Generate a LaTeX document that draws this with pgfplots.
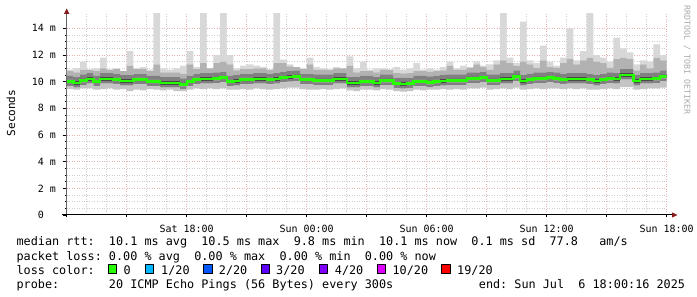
\documentclass[border=0pt]{standalone}
\usepackage{fontspec}
\setmainfont{DejaVu Sans Mono}
\usepackage{pgfplots}
\pgfplotsset{compat=1.18}
\usepackage{pgfplotstable}
\definecolor{mgrid}{RGB}{232,178,178}
\definecolor{mingrid}{RGB}{205,205,205}
\definecolor{arrowred}{RGB}{135,28,28}
\definecolor{yaxisgray}{RGB}{100,100,100}
\definecolor{l0}{HTML}{26FF00}
\definecolor{l1}{HTML}{00B8FF}
\definecolor{l2}{HTML}{0059FF}
\definecolor{l3}{HTML}{5E00FF}
\definecolor{l4}{HTML}{7E00FF}
\definecolor{l10}{HTML}{DD00FF}
\definecolor{l19}{HTML}{FF0000}
\definecolor{s1}{RGB}{196,196,196}
\definecolor{s2}{RGB}{128,128,128}
\definecolor{s3}{RGB}{72,72,72}
\definecolor{s4}{RGB}{178,178,178}
\definecolor{s5}{RGB}{216,216,216}
\definecolor{wm}{RGB}{170,170,170}
\newcommand\legfont{\fontsize{11.85}{14}\selectfont}
\newcommand\tickfont{\fontsize{10}{12}\selectfont}
\pgfplotstableread{
t lo q1 q2 med q3 q4 q5 hi
0 9.45 9.65 9.85 10.0 10.15 10.45 10.8 10.9
20 9.4 9.55 9.75 9.9 10.05 10.35 10.7 11.0
40 9.5 9.75 9.95 10.1 10.25 10.55 10.9 11.5
60 9.5 9.85 10.05 10.2 10.35 10.65 10.9 10.9
80 9.4 9.65 9.85 10.0 10.15 10.45 10.8 11.0
100 9.45 9.85 10.05 10.2 10.35 10.65 11.0 11.8
120 9.5 9.85 10.05 10.2 10.35 10.65 10.9 10.9
140 9.4 9.8 10.0 10.15 10.3 10.6 10.95 11.0
160 9.45 9.7 9.9 10.05 10.2 10.5 10.8 10.8
180 9.3 9.7 9.9 10.05 10.2 10.5 11.2 12.3
200 9.4 9.8 10.0 10.15 10.3 10.6 10.95 11.0
220 9.35 9.8 10.0 10.15 10.3 10.6 10.95 11.1
240 9.45 9.65 9.85 10.0 10.15 10.45 10.8 10.9
260 9.4 9.65 9.85 10.0 10.15 10.45 11.3 15.3
280 9.35 9.55 9.75 9.9 10.05 10.35 10.7 11.0
300 9.4 9.55 9.75 9.9 10.05 10.35 10.7 10.9
320 9.3 9.55 9.75 9.9 10.05 10.35 10.7 11.0
340 9.3 9.45 9.65 9.8 9.95 10.25 10.6 11.2
360 9.4 9.65 9.85 10.0 10.15 10.45 11.3 12.3
380 9.5 9.8 10.0 10.15 10.3 10.6 10.95 11.1
400 9.45 9.85 10.05 10.2 10.35 10.65 11.4 15.3
420 9.5 9.85 10.05 10.2 10.35 10.65 11.0 11.0
440 9.45 9.9 10.1 10.25 10.4 10.7 11.4 12.0
460 9.5 9.95 10.15 10.3 10.45 10.75 11.5 15.3
480 9.4 9.65 9.85 10.0 10.15 10.45 11.3 12.0
500 9.4 9.7 9.9 10.05 10.2 10.5 10.85 11.0
520 9.45 9.8 10.0 10.15 10.3 10.6 10.95 11.2
540 9.4 9.8 10.0 10.15 10.3 10.6 10.95 11.3
560 9.5 9.85 10.05 10.2 10.35 10.65 11.0 11.2
580 9.45 9.85 10.05 10.2 10.35 10.65 11.0 11.1
600 9.4 9.8 10.0 10.15 10.3 10.6 10.9 10.9
620 9.45 9.85 10.05 10.2 10.35 10.65 11.4 15.3
640 9.5 9.95 10.15 10.3 10.45 10.75 11.4 11.65
660 9.55 10.0 10.2 10.35 10.5 10.8 11.15 11.3
680 9.55 10.05 10.25 10.4 10.55 10.85 11.1 11.1
700 9.45 9.8 10.0 10.15 10.3 10.6 10.95 11.0
720 9.4 9.8 10.0 10.15 10.3 10.6 11.3 11.8
740 9.4 9.75 9.95 10.1 10.25 10.55 10.9 11.1
760 9.45 9.75 9.95 10.1 10.25 10.55 10.9 11.0
780 9.4 9.75 9.95 10.1 10.25 10.55 10.9 10.9
800 9.45 9.85 10.05 10.2 10.35 10.65 11.0 11.1
820 9.5 9.85 10.05 10.2 10.35 10.65 11.0 11.0
840 9.35 9.55 9.75 9.9 10.05 10.35 11.2 11.9
860 9.3 9.55 9.75 9.9 10.05 10.35 10.7 11.0
880 9.4 9.65 9.85 10.0 10.15 10.45 10.8 11.5
900 9.4 9.65 9.85 10.0 10.15 10.45 10.8 10.9
920 9.35 9.55 9.75 9.9 10.05 10.35 10.7 11.0
940 9.45 9.75 9.95 10.1 10.25 10.55 10.9 11.0
960 9.4 9.75 9.95 10.1 10.25 10.55 10.9 10.9
980 9.3 9.5 9.7 9.85 10.0 10.3 10.65 11.1
1000 9.25 9.48 9.68 9.83 9.98 10.28 10.63 10.9
1020 9.3 9.5 9.7 9.85 10.0 10.3 10.65 11.0
1040 9.4 9.65 9.85 10.0 10.15 10.45 10.8 11.4
1060 9.35 9.65 9.85 10.0 10.15 10.45 10.8 10.9
1080 9.4 9.6 9.8 9.95 10.1 10.4 10.75 11.0
1100 9.4 9.65 9.85 10.0 10.15 10.45 10.8 10.9
1120 9.45 9.7 9.9 10.05 10.2 10.5 10.85 11.1
1140 9.4 9.75 9.95 10.1 10.25 10.55 11.2 11.5
1160 9.45 9.75 9.95 10.1 10.25 10.55 10.9 11.0
1180 9.4 9.75 9.95 10.1 10.25 10.55 10.9 11.2
1200 9.5 9.9 10.1 10.25 10.4 10.7 11.05 11.1
1220 9.5 9.9 10.1 10.25 10.4 10.7 11.3 11.5
1240 9.55 9.95 10.15 10.3 10.45 10.75 11.1 11.2
1260 9.4 9.75 9.95 10.1 10.25 10.55 10.9 11.3
1280 9.45 9.75 9.95 10.1 10.25 10.55 11.3 11.6
1300 9.5 9.85 10.05 10.2 10.35 10.65 11.6 15.3
1320 9.45 9.85 10.05 10.2 10.35 10.65 11.4 11.8
1340 9.55 10.05 10.25 10.4 10.55 10.85 11.2 11.4
1360 9.4 9.7 9.9 10.05 10.2 10.5 11.5 14.5
1380 9.45 9.8 10.0 10.15 10.3 10.6 11.3 11.6
1400 9.5 9.9 10.1 10.25 10.4 10.7 11.05 11.4
1420 9.45 9.9 10.1 10.25 10.4 10.7 11.6 12.7
1440 9.5 9.95 10.15 10.3 10.45 10.75 11.1 11.5
1460 9.5 9.9 10.1 10.25 10.4 10.7 11.05 11.2
1480 9.45 9.8 10.0 10.15 10.3 10.6 11.4 11.8
1500 9.5 9.85 10.05 10.2 10.35 10.65 11.7 14.0
1520 9.45 9.85 10.05 10.2 10.35 10.65 11.3 11.6
1540 9.5 9.85 10.05 10.2 10.35 10.65 11.6 12.3
1560 9.4 9.8 10.0 10.15 10.3 10.6 11.8 15.3
1580 9.4 9.7 9.9 10.05 10.2 10.5 11.5 12.0
1600 9.45 9.8 10.0 10.15 10.3 10.6 11.4 11.8
1620 9.5 9.9 10.1 10.25 10.4 10.7 11.05 11.5
1640 9.45 9.85 10.05 10.2 10.35 10.65 11.7 13.3
1660 9.6 10.15 10.35 10.5 10.65 10.95 11.8 12.5
1680 9.6 10.15 10.35 10.5 10.65 10.95 11.7 12.2
1700 9.4 9.7 9.9 10.05 10.2 10.5 10.85 11.3
1720 9.45 9.85 10.05 10.2 10.35 10.65 11.3 11.6
1740 9.5 9.85 10.05 10.2 10.35 10.65 11.0 11.5
1760 9.5 9.9 10.1 10.25 10.4 10.7 11.8 12.8
1780 9.55 10.05 10.25 10.4 10.55 10.85 11.6 12.0
1800 9.55 10.05 10.25 10.4 10.55 10.85 11.6 12.0
}\smoke
\begin{document}
\begin{tikzpicture}
\fill[white] (0,0) rectangle (697bp,297bp);
\path[use as bounding box] (0,0) rectangle (697bp,297bp);
\begin{axis}[name=ax, at={(66.7bp,82bp)}, anchor=south west,
  scale only axis, width=600bp, height=201.3bp,
  xmin=0, xmax=1800, ymin=0, ymax=15.1,
  axis x line*=bottom, axis y line*=left,
  x axis line style={black, line width=1bp},
  y axis line style={yaxisgray, line width=1bp},
  xtick={0,180,...,1800},
  xticklabels={,,Sat 18:00,,Sun 00:00,,Sun 06:00,,Sun 12:00,,Sun 18:00},
  ytick={0,2,...,14},
  yticklabels={0\hphantom{~m},2~m,4~m,6~m,8~m,10~m,12~m,14~m},
  minor x tick num=2, minor y tick num=3,
  grid=both,
  major grid style={mgrid, line width=1bp, dash pattern=on 1bp off 1.5bp},
  minor grid style={mingrid, line width=1bp, dash pattern=on 1bp off 1.5bp},
  tick align=outside,
  major tick length=4bp, minor tick length=2bp,
  tick style={black, line width=0.8bp},
  xtick style={/pgfplots/major tick length=2.5bp},
  minor x tick style={/pgfplots/minor tick length=0pt},
  ticklabel style={font=\tickfont},
  xticklabel style={anchor=base, inner sep=0pt, yshift=-13.3bp},
  yticklabel style={anchor=east, inner sep=0pt, xshift=-6.7bp},
  stack plots=y,
]
\addplot[draw=none, const plot] table[x=t, y=lo]{\smoke};
\addplot[fill=s1, draw=none, const plot] table[x=t, y expr=\thisrow{q1}-\thisrow{lo}]{\smoke} \closedcycle;
\addplot[fill=s2, draw=none, const plot] table[x=t, y expr=\thisrow{q2}-\thisrow{q1}]{\smoke} \closedcycle;
\addplot[fill=s3, draw=none, const plot] table[x=t, y expr=\thisrow{q3}-\thisrow{q2}]{\smoke} \closedcycle;
\addplot[fill=s2, draw=none, const plot] table[x=t, y expr=\thisrow{q4}-\thisrow{q3}]{\smoke} \closedcycle;
\addplot[fill=s4, draw=none, const plot] table[x=t, y expr=\thisrow{q5}-\thisrow{q4}]{\smoke} \closedcycle;
\addplot[fill=s5, draw=none, const plot] table[x=t, y expr=\thisrow{hi}-\thisrow{q5}]{\smoke} \closedcycle;
\end{axis}
\begin{axis}[at={(66.7bp,82bp)}, anchor=south west,
  scale only axis, width=600bp, height=201.3bp,
  xmin=0, xmax=1800, ymin=0, ymax=15.1, hide axis]
\addplot[l0, line width=2.4bp, const plot] table[x=t, y=med]{\smoke};
\end{axis}
% axis arrows
\draw[black, line width=1bp] (61.7bp,82bp) -- (672bp,82bp);
\fill[arrowred] (672bp,84.6bp) -- (677.5bp,82bp) -- (672bp,79.4bp) -- cycle;
\fill[arrowred] (63.9bp,283bp) -- (69.5bp,283bp) -- (66.7bp,288.5bp) -- cycle;
% labels
\node[rotate=90, font=\fontsize{11.1}{13}\selectfont] at (11bp,184bp) {Seconds};
\node[rotate=-90, anchor=west, inner sep=0pt, text=wm, font=\fontsize{8.3}{10}\selectfont] at (687bp,292bp) {RRDTOOL~/~TOBI~OETIKER};
% legend
\node[anchor=base west, inner sep=0pt, font=\legfont] at (16.4bp,51bp) {median~rtt:~~10.1~ms~avg~~10.5~ms~max~~9.8~ms~min~~10.1~ms~now~~0.1~ms~sd~~77.8~~~am/s};
\node[anchor=base west, inner sep=0pt, font=\legfont] at (16.4bp,37bp) {packet~loss:~0.00~\%~avg~~0.00~\%~max~~0.00~\%~min~~0.00~\%~now};
\node[anchor=base west, inner sep=0pt, font=\legfont] at (16.4bp,23bp) {loss~color:};
\foreach \bx/\lx/\col/\lab in {108/123.5/l0/{0}, 145.3/161/l1/{1/20}, 203.6/218.7/l2/{2/20}, 261.3/276/l3/{3/20}, 319/334.7/l4/{4/20}, 377/392.4/l10/{10/20}, 441.8/457/l19/{19/20}}{
  \draw[black, line width=1bp, fill=\col] (\bx bp,32bp) rectangle ++(8.4bp,-9bp);
  \node[anchor=base west, inner sep=0pt, font=\legfont] at (\lx bp,23bp) {\lab};
}
\node[anchor=base west, inner sep=0pt, font=\legfont] at (16.4bp,9bp) {probe:~~~~~~~20~ICMP~Echo~Pings~(56~Bytes)~every~300s};
\node[anchor=base west, inner sep=0pt, font=\legfont] at (478.7bp,9bp) {end:~Sun~Jul~~6~18:00:16~2025};
\end{tikzpicture}
\end{document}
